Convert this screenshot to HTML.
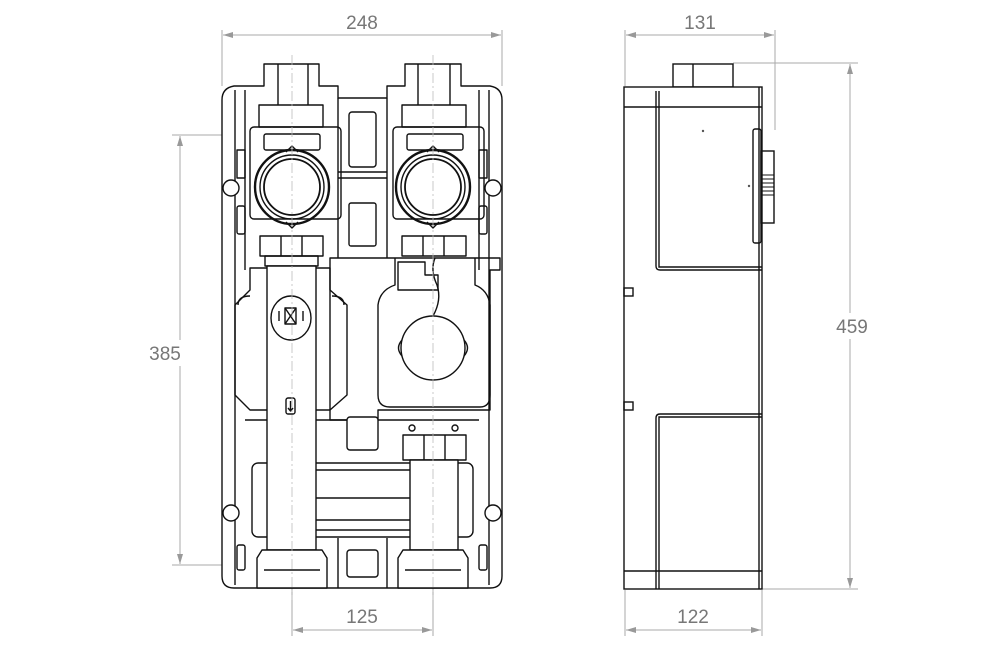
<!DOCTYPE html>
<html><head><meta charset="utf-8"><style>
html,body{margin:0;padding:0;background:#fff}
svg{display:block}
text{font-family:"Liberation Sans",sans-serif;font-size:19px;fill:#777}
</style></head><body>
<svg width="1000" height="646" viewBox="0 0 1000 646" xmlns="http://www.w3.org/2000/svg">
<defs>
<marker id="a" viewBox="0 0 10 6" refX="10" refY="3" markerWidth="10" markerHeight="6" orient="auto-start-reverse"><path d="M0,0L10,3L0,6z" fill="#999"/></marker>
</defs>
<g stroke="#aaa" stroke-width="1" fill="none">
<line x1="222" y1="30" x2="222" y2="86"/><line x1="502" y1="30" x2="502" y2="86"/>
<line x1="223" y1="35" x2="501" y2="35" marker-start="url(#a)" marker-end="url(#a)"/>
<line x1="172" y1="135" x2="262" y2="135"/><line x1="172" y1="565" x2="262" y2="565"/>
<line x1="180" y1="136" x2="180" y2="564" marker-start="url(#a)" marker-end="url(#a)"/>
<line x1="292" y1="560" x2="292" y2="636"/><line x1="433" y1="560" x2="433" y2="636"/>
<line x1="293" y1="630" x2="432" y2="630" marker-start="url(#a)" marker-end="url(#a)"/>
<line x1="625" y1="30" x2="625" y2="86"/><line x1="775" y1="30" x2="775" y2="130"/>
<line x1="626" y1="35" x2="774" y2="35" marker-start="url(#a)" marker-end="url(#a)"/>
<line x1="733" y1="63" x2="858" y2="63"/><line x1="762" y1="589" x2="858" y2="589"/>
<line x1="850" y1="64" x2="850" y2="588" marker-start="url(#a)" marker-end="url(#a)"/>
<line x1="625" y1="590" x2="625" y2="636"/><line x1="762" y1="590" x2="762" y2="636"/>
<line x1="626" y1="630" x2="761" y2="630" marker-start="url(#a)" marker-end="url(#a)"/>
</g>
<rect x="340" y="10" width="44" height="24" fill="#fff"/>
<text x="362" y="29" text-anchor="middle">248</text>
<rect x="145" y="340" width="42" height="26" fill="#fff"/>
<text x="165" y="360" text-anchor="middle">385</text>
<text x="362" y="623" text-anchor="middle">125</text>
<text x="700" y="29" text-anchor="middle">131</text>
<rect x="832" y="313" width="40" height="26" fill="#fff"/>
<text x="852" y="333" text-anchor="middle">459</text>
<text x="693" y="623" text-anchor="middle">122</text>

<g stroke="#111" stroke-width="1.4" fill="none" stroke-linejoin="round">
<path d="M264,64H319V86H338V98H387V86H405V64H461V86H490Q502,88 502,100V576Q502,588 490,588H234Q222,588 222,576V100Q222,88 234,86H264Z" fill="#fff"/>
<line x1="235" y1="90" x2="235" y2="585"/><line x1="489" y1="90" x2="489" y2="585"/>
<line x1="245" y1="90" x2="245" y2="270"/><line x1="479" y1="90" x2="479" y2="270"/>
<line x1="338" y1="98" x2="338" y2="258"/><line x1="387" y1="98" x2="387" y2="258"/>
<line x1="338" y1="172" x2="387" y2="172"/><line x1="338" y1="178" x2="387" y2="178"/>
<line x1="278" y1="64" x2="278" y2="105"/><line x1="308" y1="64" x2="308" y2="105"/>
<line x1="418" y1="64" x2="418" y2="105"/><line x1="450" y1="64" x2="450" y2="105"/>
<rect x="349" y="112" width="27" height="55" rx="3"/>
<rect x="349" y="203" width="27" height="43" rx="2"/>
<rect x="259" y="105" width="64" height="22"/>
<rect x="402" y="105" width="64" height="22"/>
<rect x="250" y="127" width="91" height="92" rx="4"/>
<rect x="393" y="127" width="91" height="92" rx="4"/>
<rect x="264" y="134" width="56" height="16" rx="2"/>
<rect x="407" y="134" width="56" height="16" rx="2"/>
<circle cx="292" cy="187" r="37" stroke-width="2.4"/><circle cx="292" cy="187" r="32"/><circle cx="292" cy="187" r="28" stroke-width="1.8"/>
<circle cx="433" cy="187" r="37" stroke-width="2.4"/><circle cx="433" cy="187" r="32"/><circle cx="433" cy="187" r="28" stroke-width="1.8"/>
<path d="M286,152L292,146L298,152M286,222L292,228L298,222"/>
<path d="M427,152L433,146L439,152M427,222L433,228L439,222"/>
<circle cx="231" cy="188" r="8" fill="#fff"/><circle cx="493" cy="188" r="8" fill="#fff"/>
<circle cx="231" cy="513" r="8" fill="#fff"/><circle cx="493" cy="513" r="8" fill="#fff"/>
<rect x="237" y="206" width="8" height="28" rx="2"/><rect x="479" y="206" width="8" height="28" rx="2"/>
<rect x="237" y="150" width="8" height="28"/><rect x="479" y="150" width="8" height="28"/>
<rect x="260" y="236" width="63" height="20"/><line x1="281" y1="236" x2="281" y2="256"/><line x1="302" y1="236" x2="302" y2="256"/>
<rect x="402" y="236" width="64" height="20"/><line x1="423" y1="236" x2="423" y2="256"/><line x1="444" y1="236" x2="444" y2="256"/>
<rect x="265" y="256" width="53" height="10"/>
<path d="M250,268H330V290L347,305V395L330,410H250L235,395V305L250,290Z"/>
<path d="M238,305Q238,296 250,296M344,305Q344,296 332,296"/>
<line x1="245" y1="420" x2="479" y2="420"/>
<!-- right pump housing -->
<path d="M330,258H500V270H490V410H378V420H330Z"/>
<path d="M395,258V285Q380,290 378,305V395Q378,407 390,407H480Q490,407 490,395V305Q488,290 475,285V258"/>
<path d="M398,262H425V275H438V290H398Z"/>
<path d="M435,258Q430,270 437,285Q442,300 433,316"/>
<circle cx="433" cy="348" r="32"/>
<path d="M402,340Q395,348 402,356M464,340Q471,348 464,356"/>
<rect x="347" y="417" width="31" height="33" rx="3" fill="#fff"/>
<circle cx="412" cy="428" r="3"/><circle cx="455" cy="428" r="3"/>
<rect x="252" y="463" width="221" height="74" rx="6"/>
<line x1="316" y1="470" x2="410" y2="470"/>
<line x1="316" y1="498" x2="410" y2="498"/><line x1="316" y1="520" x2="410" y2="520"/>
<line x1="316" y1="530" x2="410" y2="530"/>
<!-- vertical pipes on top -->
<rect x="267" y="266" width="49" height="284" fill="#fff"/>
<ellipse cx="291" cy="318" rx="20" ry="22"/>
<rect x="285" y="308" width="11" height="16"/><path d="M285,308L296,324M296,308L285,324"/>
<line x1="279" y1="311" x2="279" y2="321"/><line x1="303" y1="311" x2="303" y2="321"/>
<rect x="286" y="398" width="9" height="16" rx="2"/><path d="M290.5,401V411M288,408L290.5,411L293,408"/>
<rect x="403" y="435" width="63" height="25" fill="#fff"/><line x1="424" y1="435" x2="424" y2="460"/><line x1="445" y1="435" x2="445" y2="460"/>
<rect x="410" y="460" width="48" height="90" fill="#fff"/>
<path d="M262,550H322L327,558V588H257V558Z" fill="#fff"/><line x1="264" y1="570" x2="320" y2="570"/>
<path d="M403,550H463L468,558V588H398V558Z" fill="#fff"/><line x1="405" y1="570" x2="461" y2="570"/>
<line x1="338" y1="538" x2="338" y2="588"/><line x1="387" y1="538" x2="387" y2="588"/>
<rect x="347" y="550" width="31" height="27" rx="3"/>
<rect x="237" y="545" width="8" height="25" rx="2"/><rect x="479" y="545" width="8" height="25" rx="2"/>
</g>
<g stroke="#bbb" stroke-width="0.8" stroke-dasharray="10,3,2,3" fill="none">
<line x1="292" y1="55" x2="292" y2="600"/><line x1="433" y1="55" x2="433" y2="600"/>
</g>

<g stroke="#111" stroke-width="1.4" fill="none">
<rect x="673" y="64" width="60" height="23"/><line x1="693" y1="64" x2="693" y2="87"/>
<rect x="624" y="87" width="138" height="502" fill="#fff"/>
<line x1="624" y1="107" x2="762" y2="107"/>
<line x1="759" y1="87" x2="759" y2="589"/>
<path d="M656,91V266Q656,270 660,270H762"/>
<path d="M659,91V267H762"/>
<path d="M656,589V418Q656,414 660,414H762"/>
<path d="M659,589V417H762"/>
<line x1="624" y1="571" x2="762" y2="571"/>
<rect x="753" y="129" width="8" height="114" rx="2"/>
<rect x="761" y="151" width="13" height="72"/>
<g stroke-width="1"><line x1="761" y1="175" x2="774" y2="175"/><line x1="761" y1="179" x2="774" y2="179"/><line x1="761" y1="183" x2="774" y2="183"/><line x1="761" y1="187" x2="774" y2="187"/><line x1="761" y1="191" x2="774" y2="191"/><line x1="761" y1="195" x2="774" y2="195"/></g>
<rect x="624" y="288" width="9" height="8"/><rect x="624" y="402" width="9" height="8"/>
</g>
<circle cx="703" cy="131" r="1.2" fill="#555"/><circle cx="749" cy="186" r="1.2" fill="#555"/>
</svg>
</body></html>
